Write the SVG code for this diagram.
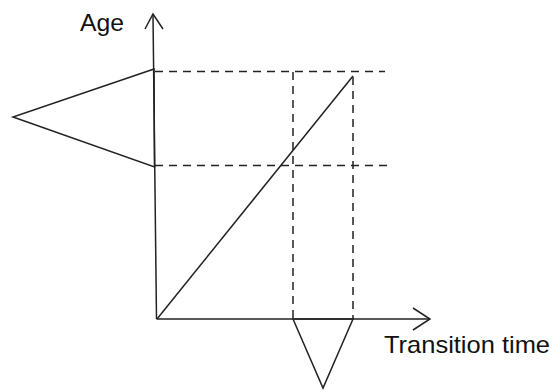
<svg xmlns="http://www.w3.org/2000/svg" width="552" height="390" viewBox="0 0 552 390">
<style>
.s{fill:none;stroke:#222;stroke-width:1.5;stroke-linejoin:miter}
.d{fill:none;stroke:#222;stroke-width:1.5;stroke-dasharray:8 6}
.t{font-family:"Liberation Sans",Arial,sans-serif;font-size:24px;fill:#111}
</style>
<rect width="552" height="390" fill="#fff"/>
<g id="connectors">
<path class="s" d="M156.5,319 L153,15"/>
<path class="s" d="M145,29 L153,14 L163,29"/>
<path class="s" d="M156.5,319 L430,319"/>
<path class="s" d="M413,308 L430,319 L413,330"/>
<path class="s" d="M157,319 L353,76"/>
<path class="d" d="M155,71.5 H385"/>
<path class="d" d="M155,165.5 H389"/>
<path class="d" d="M293,72 V319"/>
<path class="d" d="M353,77 V319"/>
</g>
<g id="age-triangle"><polygon class="s" points="154,69 13,117 154.5,167"/></g>
<g id="time-triangle"><polygon class="s" points="293,319 323,388 353,319"/></g>
<g id="label-age"><text class="t" x="80" y="31" textLength="44" lengthAdjust="spacingAndGlyphs">Age</text></g>
<g id="label-time"><text class="t" x="384" y="353" textLength="166" lengthAdjust="spacingAndGlyphs">Transition time</text></g>
</svg>
